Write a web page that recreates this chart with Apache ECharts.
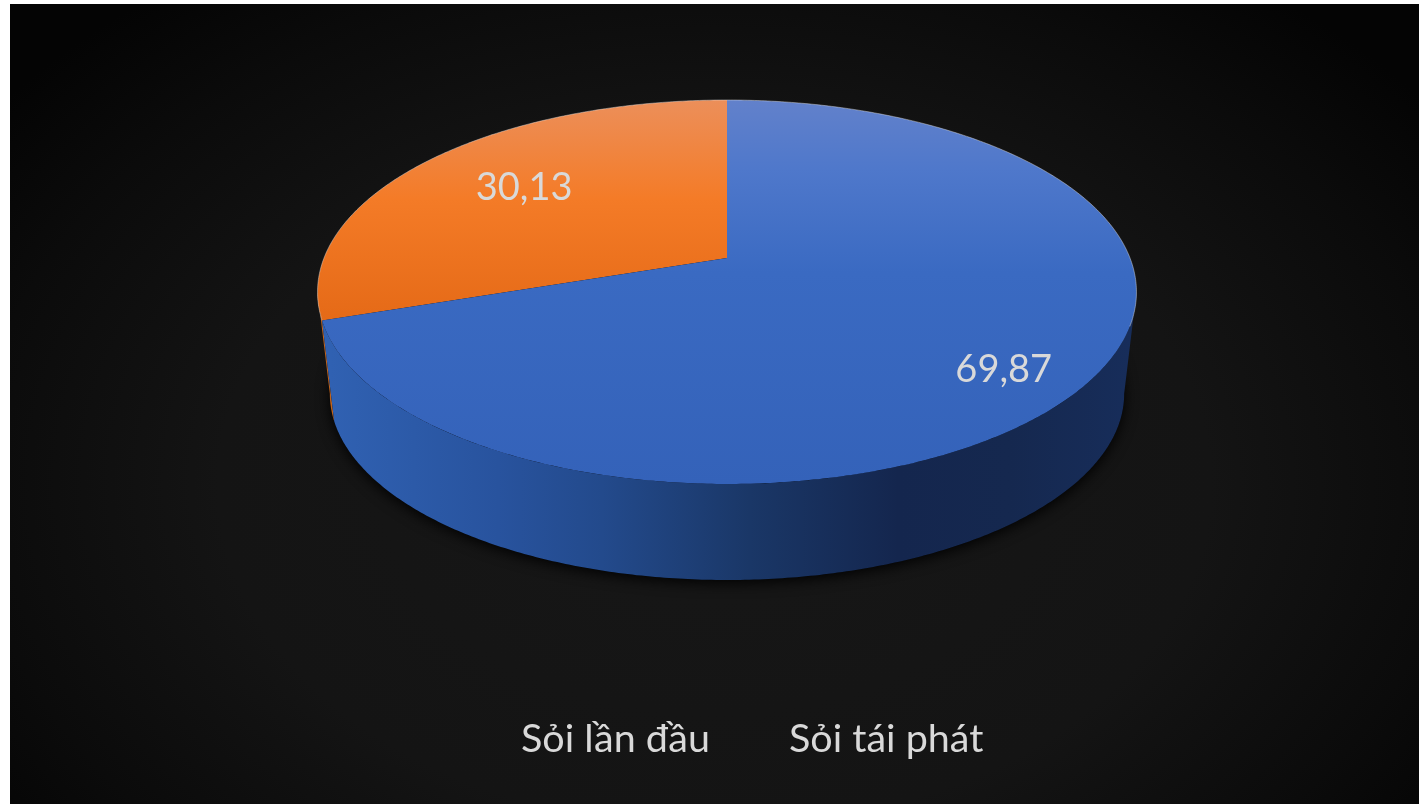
<!DOCTYPE html>
<html><head><meta charset="utf-8">
<style>
html,body{margin:0;padding:0;background:#fff;width:1419px;height:804px;overflow:hidden}
#bg{position:absolute;left:10px;top:4px;width:1409px;height:800px;background:radial-gradient(ellipse 64% 78% at 50% 60%,#171717 0%,#141414 55%,#0b0b0b 82%,#040404 100%)}
#main{position:absolute;left:0;top:0;width:1419px;height:804px}
</style>
<script src="https://cdn.jsdelivr.net/npm/echarts@6/dist/echarts.min.js"></script>
</head><body><div id="bg"></div><div id="main"></div>
<script>
const categories = ['Sỏi lần đầu', 'Sỏi tái phát'];
const values = [30.13, 69.87];
const valueLabels = ['30,13', '69,87'];

const FONT = 'Lato, "Noto Sans", sans-serif';
const TEXT = '#d9d9d9';
const total = values.reduce((a, b) => a + b, 0);

// perspective disc geometry
const CX = 727, A = 140.3, B = 258, C = -0.177, D = 403;
const WALL_K = 0.97, WALL_DY = 101.8;
function rimPoint(t, r) {
  const u = Math.sin(t) * r, v = -Math.cos(t) * r, w = 1 + C * v;
  return [CX + D * u / w, (A * v + B) / w];
}
function basePoint(t) {
  const p = rimPoint(t, 1);
  return [CX + (p[0] - CX) * WALL_K, 292 + (p[1] - 292) * WALL_K + WALL_DY];
}
function arc(fn, a, b) {
  const n = Math.max(8, Math.ceil(Math.abs(b - a) / 0.01)), out = [];
  for (let i = 0; i <= n; i++) out.push(fn(a + (b - a) * i / n));
  return out;
}
const grad = (x, y, x2, y2, stops) => ({type: 'linear', x, y, x2, y2, global: true,
  colorStops: stops.map(s => ({offset: s[0], color: s[1]}))});
const blueTop = grad(0, 100, 0, 484, [[0, '#6281cb'], [0.18, '#4f78cb'], [0.45, '#3a6ac2'], [1, '#3462b9']]);
const orangeTop = grad(0, 100, 0, 320, [[0, '#ec8f5a'], [0.45, '#f47b27'], [1, '#e56a17']]);
const blueWall = grad(330, 0, 1130, 0, [[0, '#3061b2'], [0.21, '#28539e'], [0.34, '#234a8c'], [0.525, '#1a3767'], [0.71, '#14264e'], [0.85, '#15284f'], [1, '#172d5a']]);
const orangeWall = '#c0631c';
const SILHOUETTE = Math.acos(C); // angle from the top where the outline turns vertical
const TWO = Math.PI * 2;

// slices run clockwise from the top; the first category's share sits left of the top
const a0 = values[0] / total * TWO;
const angles = [[TWO - a0, TWO], [0, TWO - a0]];
const labelPlace = [{r: 0.67, dx: 2, dy: -2}, {r: 0.85, dx: -28, dy: 10}];
const fills = [orangeTop, blueTop];

function renderSlice(idx) {
  return function () {
    const [a, b] = angles[idx];
    const kids = [];
    if (idx === 0) {
      kids.push({type: 'polygon', shape: {points: arc(basePoint, 0, TWO)},
        style: {fill: '#000', shadowColor: 'rgba(0,0,0,0.95)', shadowBlur: 14, shadowOffsetY: 3}});
      const s = TWO - SILHOUETTE;
      const pts = arc(t => rimPoint(t, 1), s, a).concat(arc(basePoint, a, s));
      kids.push({type: 'polygon', shape: {points: pts}, style: {fill: orangeWall}});
    } else {
      const s = SILHOUETTE;
      const pts = arc(t => rimPoint(t, 1), s, b).concat(arc(basePoint, b, s));
      kids.push({type: 'polygon', shape: {points: pts}, style: {fill: blueWall}});
    }
    const face = [rimPoint(0, 0)].concat(arc(t => rimPoint(t, 1), a, b));
    kids.push({type: 'polygon', shape: {points: face}, style: {fill: fills[idx]}});
    // thin light edge along the far rim only
    const edgeEnd = Math.min(b, SILHOUETTE * 1.1);
    kids.push({type: 'polyline', shape: {points: arc(t => rimPoint(t, 1), a, idx === 0 ? b : edgeEnd)},
      style: {fill: 'none', stroke: 'rgba(225,225,225,0.45)', lineWidth: 1}});
    const mid = (a + b) / 2, lp = labelPlace[idx], at = rimPoint(mid, lp.r);
    kids.push({type: 'text', style: {x: at[0] + lp.dx, y: at[1] + lp.dy, text: valueLabels[idx],
      fill: TEXT, font: '38px ' + FONT, align: 'center', verticalAlign: 'middle'}});
    return {type: 'group', children: kids};
  };
}

const chart = echarts.init(document.getElementById('main'), null, {renderer: 'canvas'});
chart.setOption({
  animation: false,
  backgroundColor: 'transparent',
  legend: {
    data: categories, left: 511, top: 714, itemWidth: 0, itemHeight: 0, itemGap: 74,
    selectedMode: false,
    textStyle: {color: TEXT, fontSize: 39.5, fontFamily: FONT}
  },
  series: categories.map((name, i) => ({
    type: 'custom', name, coordinateSystem: 'none', silent: true,
    data: [[values[i]]], renderItem: renderSlice(i)
  }))
});
</script></body></html>
